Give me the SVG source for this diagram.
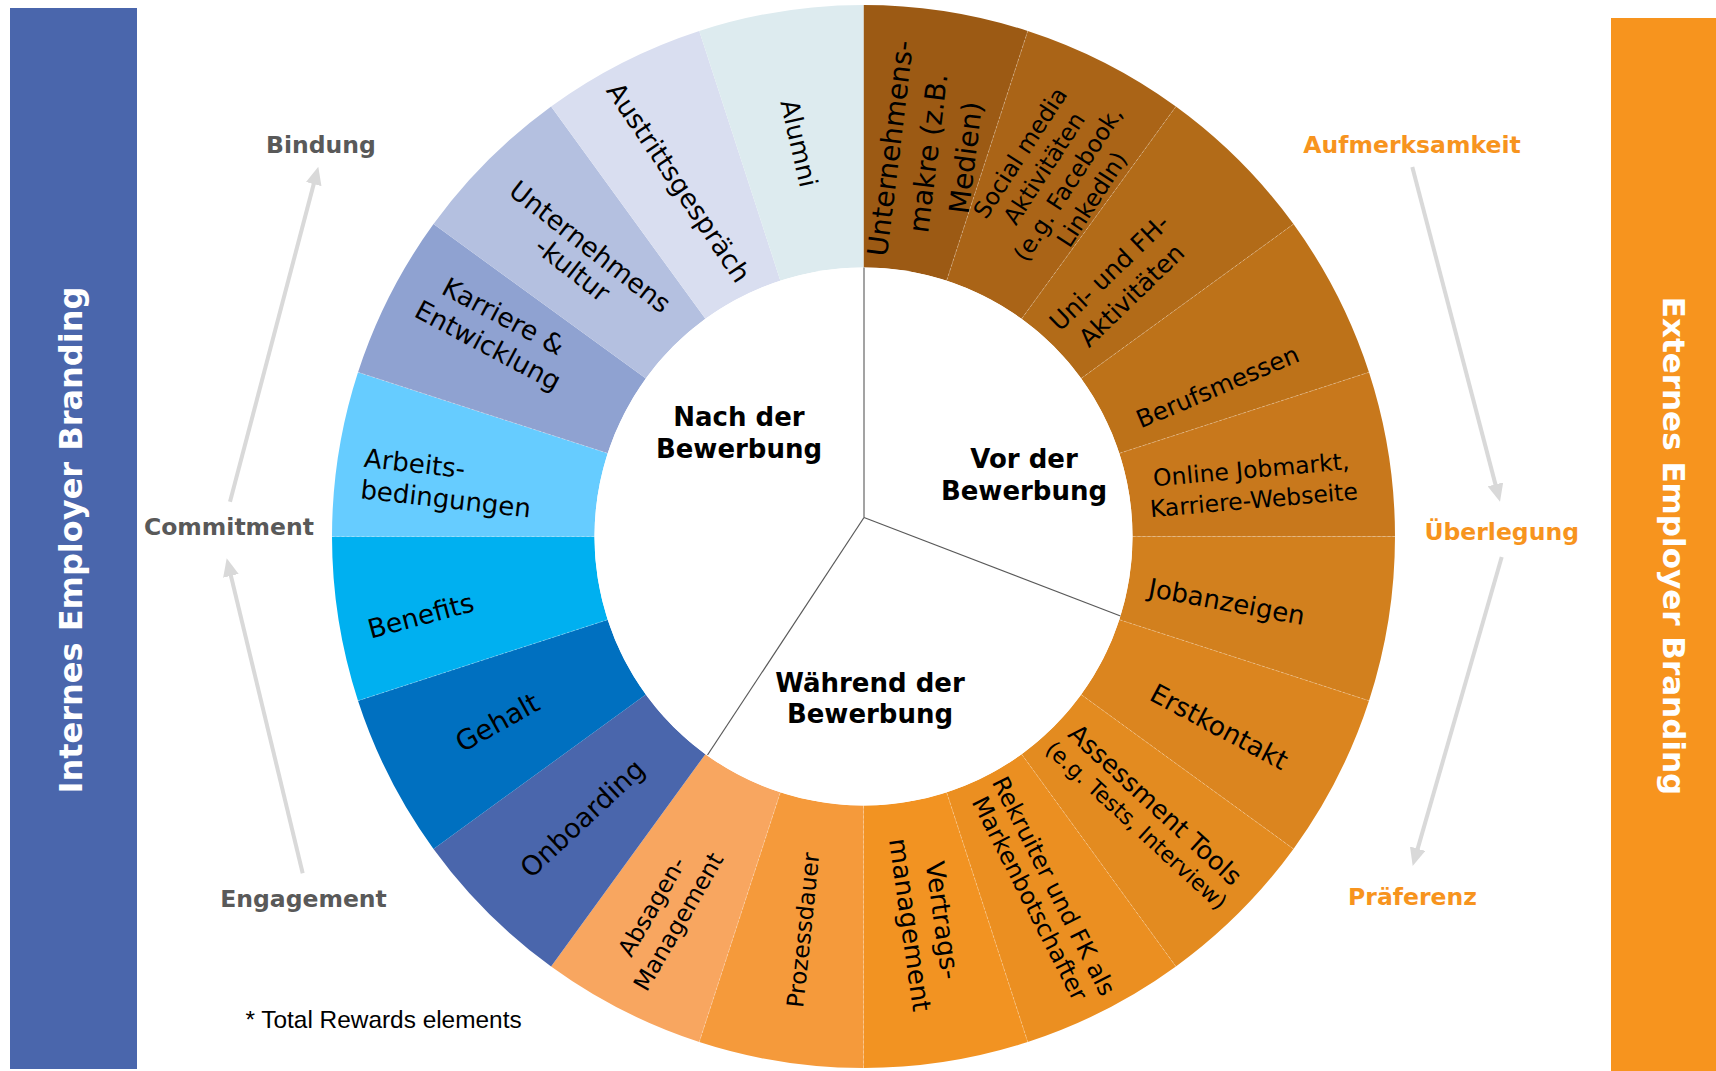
<svg xmlns="http://www.w3.org/2000/svg" width="1716" height="1071" viewBox="0 0 1716 1071">
  <defs>
    <style>
      .seg{font-family:"DejaVu Sans",Verdana,sans-serif;fill:#000;text-anchor:middle}
      .phase{font-family:"DejaVu Sans",Verdana,sans-serif;font-weight:bold;font-size:26px;fill:#000;text-anchor:middle}
      .stage{font-family:"DejaVu Sans",Verdana,sans-serif;font-weight:bold;font-size:23.5px;text-anchor:middle}
      .int{fill:#595959}
      .ext{fill:#F7941E}
      .bar-title{font-family:"DejaVu Sans",Verdana,sans-serif;font-weight:bold;fill:#fff;text-anchor:middle}
      .flow{stroke:#D9D9D9;stroke-width:4;fill:none;marker-end:url(#head)}
      .note{font-family:"Liberation Sans",Arial,sans-serif;font-size:24.4px;fill:#000}
    </style>
    <marker id="head" markerUnits="userSpaceOnUse" markerWidth="18" markerHeight="16" refX="8" refY="8" orient="auto">
      <path d="M0,0 L18,8 L0,16 Z" fill="#D9D9D9"/>
    </marker>
  </defs>

  <rect width="1716" height="1071" fill="#fff"/>

  <!-- side bars -->
  <g id="internes-branding">
    <rect x="10" y="8" width="127" height="1061" fill="#4A66AC"/>
    <text class="bar-title" font-size="32" transform="translate(82,540) rotate(-90)">Internes Employer Branding</text>
  </g>
  <g id="externes-branding">
    <rect x="1611" y="18" width="105" height="1053" fill="#F7941E"/>
    <text class="bar-title" font-size="31" transform="translate(1663,546) rotate(90)">Externes Employer Branding</text>
  </g>

  <!-- ring: 20 sectors of 18 degrees, centre (863.5,536.5), R 531.5, r 269 -->
  <g id="seg-unternehmensmakre">
    <path d="M863.5,5 A531.5,531.5 0 0 1 1027.74,31.01 L946.63,280.67 A269,269 0 0 0 863.5,267.5 Z" fill="#9C5A14"/>
    <text class="seg" font-size="28" transform="translate(928,153) rotate(-83)"><tspan x="0" y="-28.2">Unternehmens-</tspan><tspan x="0" y="9.8">makre (z.B.</tspan><tspan x="0" y="47.8">Medien)</tspan></text>
  </g>
  <g id="seg-social-media">
    <path d="M1027.74,31.01 A531.5,531.5 0 0 1 1175.91,106.51 L1021.61,318.87 A269,269 0 0 0 946.63,280.67 Z" fill="#AA6417"/>
    <text class="seg" font-size="23.5" transform="translate(1056,176) rotate(-57)"><tspan x="0" y="-34.5">Social media</tspan><tspan x="0" y="-6">Aktivitäten</tspan><tspan x="0" y="22.5">(e.g. Facebook,</tspan><tspan x="0" y="51">LinkedIn)</tspan></text>
  </g>
  <g id="seg-uni-fh">
    <path d="M1175.91,106.51 A531.5,531.5 0 0 1 1293.49,224.09 L1081.13,378.39 A269,269 0 0 0 1021.61,318.87 Z" fill="#B26B18"/>
    <text class="seg" font-size="24.8" transform="translate(1120.4,283.8) rotate(-44)"><tspan x="0" y="-7.2">Uni- und FH-</tspan><tspan x="0" y="24.6">Aktivitäten</tspan></text>
  </g>
  <g id="seg-berufsmessen">
    <path d="M1293.49,224.09 A531.5,531.5 0 0 1 1368.99,372.26 L1119.33,453.37 A269,269 0 0 0 1081.13,378.39 Z" fill="#BD7219"/>
    <text class="seg" font-size="24.5" transform="translate(1217.5,386.7) rotate(-23)" y="8.6">Berufsmessen</text>
  </g>
  <g id="seg-online">
    <path d="M1368.99,372.26 A531.5,531.5 0 0 1 1395,536.5 L1132.5,536.5 A269,269 0 0 0 1119.33,453.37 Z" fill="#C8781C"/>
    <text class="seg" font-size="23.5" transform="translate(1252.5,485) rotate(-5)"><tspan x="0" y="-7.3">Online Jobmarkt,</tspan><tspan x="0" y="23.3">Karriere-Webseite</tspan></text>
  </g>
  <g id="seg-jobanzeigen">
    <path d="M1395,536.5 A531.5,531.5 0 0 1 1368.99,700.74 L1119.33,619.63 A269,269 0 0 0 1132.5,536.5 Z" fill="#D2801E"/>
    <text class="seg" font-size="26" transform="translate(1226.7,601.7) rotate(10.5)" y="9.1">Jobanzeigen</text>
  </g>
  <g id="seg-erstkontakt">
    <path d="M1368.99,700.74 A531.5,531.5 0 0 1 1293.49,848.91 L1081.13,694.61 A269,269 0 0 0 1119.33,619.63 Z" fill="#DB851F"/>
    <text class="seg" font-size="26.5" transform="translate(1219.2,726.7) rotate(28)" y="9.3">Erstkontakt</text>
  </g>
  <g id="seg-assessment">
    <path d="M1293.49,848.91 A531.5,531.5 0 0 1 1175.91,966.49 L1021.61,754.13 A269,269 0 0 0 1081.13,694.61 Z" fill="#E38B20"/>
    <text class="seg" transform="translate(1145.8,815) rotate(42.5)"><tspan x="0" y="-5.1" font-size="25.5">Assessment Tools</tspan><tspan x="0" y="21.7" font-size="22">(e.g. Tests, Interview)</tspan></text>
  </g>
  <g id="seg-rekruiter">
    <path d="M1175.91,966.49 A531.5,531.5 0 0 1 1027.74,1041.99 L946.63,792.33 A269,269 0 0 0 1021.61,754.13 Z" fill="#EB8F21"/>
    <text class="seg" font-size="24" transform="translate(1041.9,892.1) rotate(63)"><tspan x="0" y="-5.1">Rekruiter und FK als</tspan><tspan x="0" y="21.9">Markenbotschafter</tspan></text>
  </g>
  <g id="seg-vertragsmanagement">
    <path d="M1027.74,1041.99 A531.5,531.5 0 0 1 863.5,1068 L863.5,805.5 A269,269 0 0 0 946.63,792.33 Z" fill="#F29322"/>
    <text class="seg" font-size="26" transform="translate(926.4,922.5) rotate(82)"><tspan x="0" y="-7.4">Vertrags-</tspan><tspan x="0" y="25.6">management</tspan></text>
  </g>
  <g id="seg-prozessdauer">
    <path d="M863.5,1068 A531.5,531.5 0 0 1 699.26,1041.99 L780.37,792.33 A269,269 0 0 0 863.5,805.5 Z" fill="#F59A3B"/>
    <text class="seg" font-size="23.3" transform="translate(803,930) rotate(-84)" y="8.2">Prozessdauer</text>
  </g>
  <g id="seg-absagen">
    <path d="M699.26,1041.99 A531.5,531.5 0 0 1 551.09,966.49 L705.39,754.13 A269,269 0 0 0 780.37,792.33 Z" fill="#F8A660"/>
    <text class="seg" font-size="23.5" transform="translate(665,914) rotate(-60)"><tspan x="0" y="-7.1">Absagen-</tspan><tspan x="0" y="23.6">Management</tspan></text>
  </g>
  <g id="seg-onboarding">
    <path d="M551.09,966.49 A531.5,531.5 0 0 1 433.51,848.91 L645.87,694.61 A269,269 0 0 0 705.39,754.13 Z" fill="#4A66AC"/>
    <text class="seg" font-size="27" transform="translate(582.3,818.3) rotate(-43)" y="9.5">Onboarding</text>
  </g>
  <g id="seg-gehalt">
    <path d="M433.51,848.91 A531.5,531.5 0 0 1 358.01,700.74 L607.67,619.63 A269,269 0 0 0 645.87,694.61 Z" fill="#0070C0"/>
    <text class="seg" font-size="27.5" transform="translate(497.3,722.3) rotate(-29)" y="9.6">Gehalt</text>
  </g>
  <g id="seg-benefits">
    <path d="M358.01,700.74 A531.5,531.5 0 0 1 332,536.5 L594.5,536.5 A269,269 0 0 0 607.67,619.63 Z" fill="#00B0F0"/>
    <text class="seg" font-size="26.5" transform="translate(420.7,615.7) rotate(-15)" y="9.3">Benefits</text>
  </g>
  <g id="seg-arbeitsbedingungen">
    <path d="M332,536.5 A531.5,531.5 0 0 1 358.01,372.26 L607.67,453.37 A269,269 0 0 0 594.5,536.5 Z" fill="#66CCFF"/>
    <text class="seg" font-size="26" style="text-anchor:start" transform="translate(363.3,466.7) rotate(6.5)"><tspan x="0" y="0">Arbeits-</tspan><tspan x="0" y="31.7">bedingungen</tspan></text>
  </g>
  <g id="seg-karriere">
    <path d="M358.01,372.26 A531.5,531.5 0 0 1 433.51,224.09 L645.87,378.39 A269,269 0 0 0 607.67,453.37 Z" fill="#8FA2D1"/>
    <text class="seg" font-size="26.5" transform="translate(495.8,330.8) rotate(28)"><tspan x="0" y="-7.2">Karriere &amp;</tspan><tspan x="0" y="25.8">Entwicklung</tspan></text>
  </g>
  <g id="seg-unternehmenskultur">
    <path d="M433.51,224.09 A531.5,531.5 0 0 1 551.09,106.51 L705.39,318.87 A269,269 0 0 0 645.87,378.39 Z" fill="#B4C0E0"/>
    <text class="seg" font-size="26.5" transform="translate(581.3,258) rotate(38)"><tspan x="0" y="-5">Unternehmens</tspan><tspan x="0" y="23.5">-kultur</tspan></text>
  </g>
  <g id="seg-austrittsgespraech">
    <path d="M551.09,106.51 A531.5,531.5 0 0 1 699.26,31.01 L780.37,280.67 A269,269 0 0 0 705.39,318.87 Z" fill="#D9DEF0"/>
    <text class="seg" font-size="26.5" transform="translate(678.6,182.5) rotate(56)" y="9.3">Austrittsgespräch</text>
  </g>
  <g id="seg-alumni">
    <path d="M699.26,31.01 A531.5,531.5 0 0 1 863.5,5 L863.5,267.5 A269,269 0 0 0 780.37,280.67 Z" fill="#DDEBEF"/>
    <text class="seg" font-size="25.5" transform="translate(799,143.3) rotate(77)" y="8.9">Alumni</text>
  </g>

  <!-- faint seams between the sectors -->
  <g id="seams" stroke="#ffffff" stroke-opacity="0.35" stroke-width="0.8" stroke-dasharray="3 2">
    <line x1="946.63" y1="280.67" x2="1027.74" y2="31.01"/>
    <line x1="1021.61" y1="318.87" x2="1175.91" y2="106.51"/>
    <line x1="1081.13" y1="378.39" x2="1293.49" y2="224.09"/>
    <line x1="1119.33" y1="453.37" x2="1368.99" y2="372.26"/>
    <line x1="1132.5" y1="536.5" x2="1395" y2="536.5"/>
    <line x1="1119.33" y1="619.63" x2="1368.99" y2="700.74"/>
    <line x1="1081.13" y1="694.61" x2="1293.49" y2="848.91"/>
    <line x1="1021.61" y1="754.13" x2="1175.91" y2="966.49"/>
    <line x1="946.63" y1="792.33" x2="1027.74" y2="1041.99"/>
    <line x1="863.5" y1="805.5" x2="863.5" y2="1068"/>
    <line x1="780.37" y1="792.33" x2="699.26" y2="1041.99"/>
    <line x1="607.67" y1="619.63" x2="358.01" y2="700.74"/>
    <line x1="594.5" y1="536.5" x2="332" y2="536.5"/>
    <line x1="607.67" y1="453.37" x2="358.01" y2="372.26"/>
  </g>

  <!-- hub with the three application phases -->
  <g id="hub">
    <circle cx="863.5" cy="536.5" r="269" fill="#fff"/>
  </g>
  <g id="connectors">
    <line x1="864" y1="517.5" x2="864" y2="267.5" stroke="#8c8c8c" stroke-width="1.6"/>
    <line x1="864" y1="517.5" x2="1120.5" y2="616" stroke="#595959" stroke-width="1.2"/>
    <line x1="864" y1="517.5" x2="707.5" y2="755" stroke="#595959" stroke-width="1.2"/>
    <line class="flow" x1="230" y1="501.7" x2="315.75" y2="176.37"/>
    <line class="flow" x1="302.7" y1="873.3" x2="229.05" y2="568.02"/>
    <line class="flow" x1="1412.3" y1="167.1" x2="1497.47" y2="492.13"/>
    <line class="flow" x1="1501.7" y1="557" x2="1415.47" y2="856.39"/>
  </g>
  <g id="phase-nach">
    <text class="phase"><tspan x="739" y="426">Nach der</tspan><tspan x="739" y="458">Bewerbung</tspan></text>
  </g>
  <g id="phase-vor">
    <text class="phase"><tspan x="1024" y="468.3">Vor der</tspan><tspan x="1024" y="500">Bewerbung</tspan></text>
  </g>
  <g id="phase-waehrend">
    <text class="phase"><tspan x="870" y="691.7">Während der</tspan><tspan x="870" y="723.3">Bewerbung</tspan></text>
  </g>

  <!-- stage labels -->
  <g id="stage-bindung"><text class="stage int" x="321" y="153">Bindung</text></g>
  <g id="stage-commitment"><text class="stage int" x="229" y="535">Commitment</text></g>
  <g id="stage-engagement"><text class="stage int" x="303.5" y="906.5">Engagement</text></g>
  <g id="stage-aufmerksamkeit"><text class="stage ext" x="1412" y="152.5">Aufmerksamkeit</text></g>
  <g id="stage-ueberlegung"><text class="stage ext" x="1501.7" y="540">Überlegung</text></g>
  <g id="stage-praeferenz"><text class="stage ext" x="1412.5" y="905">Präferenz</text></g>

  <text class="note" x="245.5" y="1028">* Total Rewards elements</text>
</svg>
